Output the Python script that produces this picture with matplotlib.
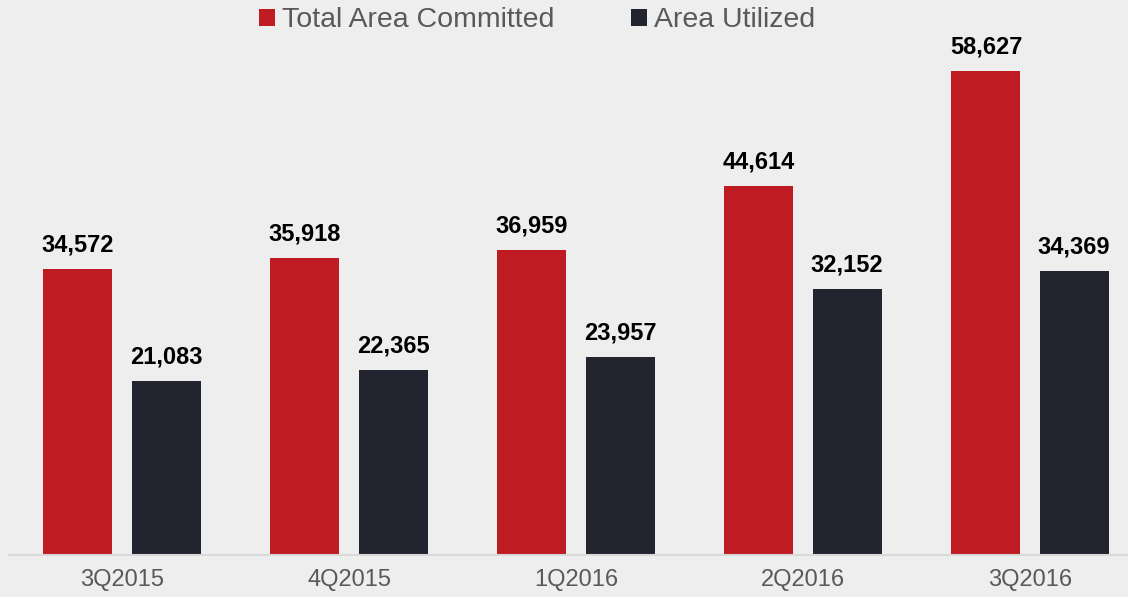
import matplotlib
matplotlib.use("Agg")
import matplotlib.pyplot as plt
import numpy as np

categories = ["3Q2015", "4Q2015", "1Q2016", "2Q2016", "3Q2016"]
committed = [34572, 35918, 36959, 44614, 58627]
utilized = [21083, 22365, 23957, 32152, 34369]
series_names = ["Total Area Committed", "Area Utilized"]

plt.rcParams['font.family'] = ['Liberation Sans', 'DejaVu Sans']
bg = "#EEEEEE"
red = "#BE1B23"
dark = "#222430"

fig = plt.figure(figsize=(11.28, 5.97), dpi=100, facecolor=bg)
W, H = 1128, 597
ax = fig.add_axes([8.5 / W, (H - 555) / H, (W - 8.5) / W, 555 / H])
ax.set_facecolor(bg)

x = np.arange(len(categories))
w = 0.304
off = 0.194
b1 = ax.bar(x - off, committed, w, color=red, label=series_names[0])
b2 = ax.bar(x + off, utilized, w, color=dark, label=series_names[1])

for bars, vals in ((b1, committed), (b2, utilized)):
    for r, v in zip(bars, vals):
        ax.annotate(f"{v:,}", (r.get_x() + r.get_width() / 2, v),
                    xytext=(0, 9), textcoords="offset points",
                    ha="center", va="bottom", fontsize=17, fontweight="bold",
                    color="black")

ax.set_xlim(-0.5, (1128 - 122) / 227)
ax.set_ylim(0, 67190)
ax.set_yticks([])
ax.set_xticks(x)
ax.set_xticklabels(categories, fontsize=17, color="#595959")
ax.tick_params(axis="x", length=0, pad=10)
for s in ["top", "right", "left"]:
    ax.spines[s].set_visible(False)
ax.spines["bottom"].set_color("#D9D9D9")
ax.spines["bottom"].set_linewidth(1.5)

leg = fig.legend(handles=[b1, b2], loc="upper center", bbox_to_anchor=(537 / W, 1.007),
                 ncol=2, frameon=False, fontsize=20.5, handlelength=0.55, handleheight=0.55,
                 handletextpad=0.25, columnspacing=2.7, borderaxespad=0.0)
for t in leg.get_texts():
    t.set_color("#595959")

fig.savefig("out.png", dpi=100, facecolor=bg)
